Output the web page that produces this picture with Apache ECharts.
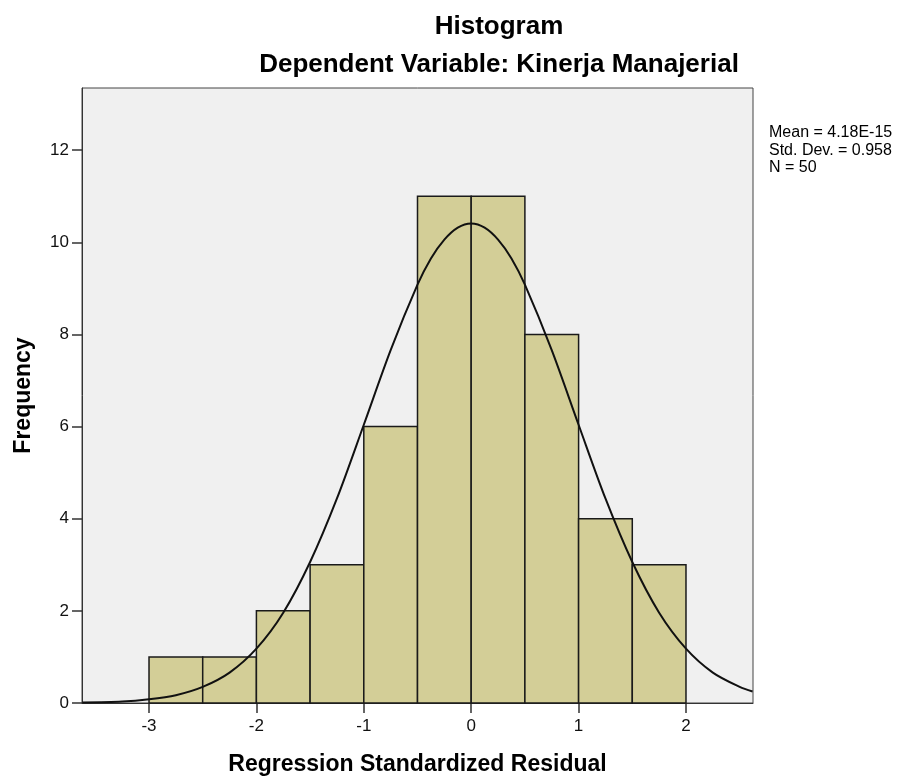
<!DOCTYPE html>
<html>
<head>
<meta charset="utf-8">
<title>Histogram</title>
<script src="https://cdn.jsdelivr.net/npm/echarts@6/dist/echarts.min.js"></script>
<style>
  html, body { margin: 0; padding: 0; background: #fff; }
  #main { width: 912px; height: 780px; }
</style>
</head>
<body>
<div id="main"></div>
<script>
// histogram bins (lower edge, upper edge) and frequencies
var binStart = [-3, -2.5, -2, -1.5, -1, -0.5, 0, 0.5, 1, 1.5];
var binEnd = [-2.5, -2, -1.5, -1, -0.5, 0, 0.5, 1, 1.5, 2];
var counts = [1, 1, 2, 3, 6, 11, 11, 8, 4, 3];

// normal curve
var curveX = [-3.62, -3.25, -3, -2.75, -2.5, -2.25, -2, -1.75, -1.5, -1.25, -1, -0.75, -0.5, -0.375, -0.25, -0.125,
  0, 0.125, 0.25, 0.375, 0.5, 0.75, 1, 1.25, 1.5, 1.75, 2, 2.25, 2.5, 2.62];
var curveY = [0.01, 0.03, 0.08, 0.17, 0.35, 0.66, 1.18, 1.96, 3.06, 4.44, 6.04, 7.66, 9.08, 9.65, 10.06, 10.32,
  10.41, 10.32, 10.06, 9.65, 9.08, 7.66, 6.04, 4.44, 3.06, 1.96, 1.18, 0.66, 0.35, 0.25];

var xTicks = [-3, -2, -1, 0, 1, 2];
var yTicks = [0, 2, 4, 6, 8, 10, 12];

var statsLines = ['Mean = 4.18E-15', 'Std. Dev. = 0.958', 'N = 50'];

var FONT = '"Liberation Sans", Arial, sans-serif';

var myChart = echarts.init(document.getElementById('main'));

var barData = [];
for (var i = 0; i < counts.length; i++) {
  barData.push([binStart[i], binEnd[i], counts[i]]);
}
var lineData = [];
for (var j = 0; j < curveX.length; j++) {
  lineData.push([curveX[j], curveY[j]]);
}

var option = {
  animation: false,
  backgroundColor: '#ffffff',
  textStyle: { fontFamily: FONT },
  title: [
    {
      text: 'Histogram',
      left: 494, top: 9, textAlign: 'center',
      textStyle: { fontSize: 26, fontWeight: 'bold', color: '#000', fontFamily: FONT }
    },
    {
      text: 'Dependent Variable: Kinerja Manajerial',
      left: 494, top: 47, textAlign: 'center',
      textStyle: { fontSize: 26, fontWeight: 'bold', color: '#000', fontFamily: FONT }
    }
  ],
  grid: {
    left: 82, top: 88, right: 159, bottom: 77,
    outerBoundsMode: 'none',
    containLabel: false,
    show: true,
    backgroundColor: '#f0f0f0',
    borderColor: '#444',
    borderWidth: 1
  },
  xAxis: {
    type: 'value',
    min: -3.624,
    max: 2.624,
    name: 'Regression Standardized Residual',
    nameLocation: 'middle',
    nameGap: 50,
    nameTextStyle: { fontSize: 23, fontWeight: 'bold', color: '#000', fontFamily: FONT },
    splitLine: { show: false },
    axisLine: { show: true, onZero: false, lineStyle: { color: '#333', width: 1 } },
    axisTick: { show: true, customValues: xTicks, length: 10, lineStyle: { color: '#333', width: 1.5 } },
    axisLabel: { customValues: xTicks, fontSize: 17, color: '#111', margin: 15, fontFamily: FONT }
  },
  yAxis: {
    type: 'value',
    min: 0,
    max: 13.35,
    name: 'Frequency',
    nameLocation: 'middle',
    nameGap: 47,
    nameTextStyle: { fontSize: 23, fontWeight: 'bold', color: '#000', fontFamily: FONT },
    splitLine: { show: false },
    axisLine: { show: true, onZero: false, lineStyle: { color: '#333', width: 1 } },
    axisTick: { show: true, customValues: yTicks, length: 10, lineStyle: { color: '#333', width: 1.5 } },
    axisLabel: { customValues: yTicks, fontSize: 17, color: '#111', margin: 13, fontFamily: FONT }
  },
  series: [
    {
      type: 'custom',
      data: barData,
      encode: { x: [0, 1], y: 2 },
      renderItem: function (params, api) {
        var p0 = api.coord([api.value(0), api.value(2)]);
        var p1 = api.coord([api.value(1), 0]);
        return {
          type: 'rect',
          shape: { x: p0[0], y: p0[1], width: p1[0] - p0[0], height: p1[1] - p0[1] },
          style: { fill: '#d3ce97', stroke: '#1a1a1a', lineWidth: 1.5 }
        };
      },
      z: 2
    },
    {
      type: 'line',
      data: lineData,
      smooth: 0.3,
      symbol: 'none',
      lineStyle: { color: '#111', width: 2 },
      z: 3
    }
  ],
  graphic: [
    {
      type: 'text',
      left: 769,
      top: 124,
      style: {
        text: statsLines.join('\n'),
        font: '16px ' + FONT,
        lineHeight: 17.5,
        fill: '#000'
      }
    }
  ]
};

myChart.setOption(option);
</script>
</body>
</html>
